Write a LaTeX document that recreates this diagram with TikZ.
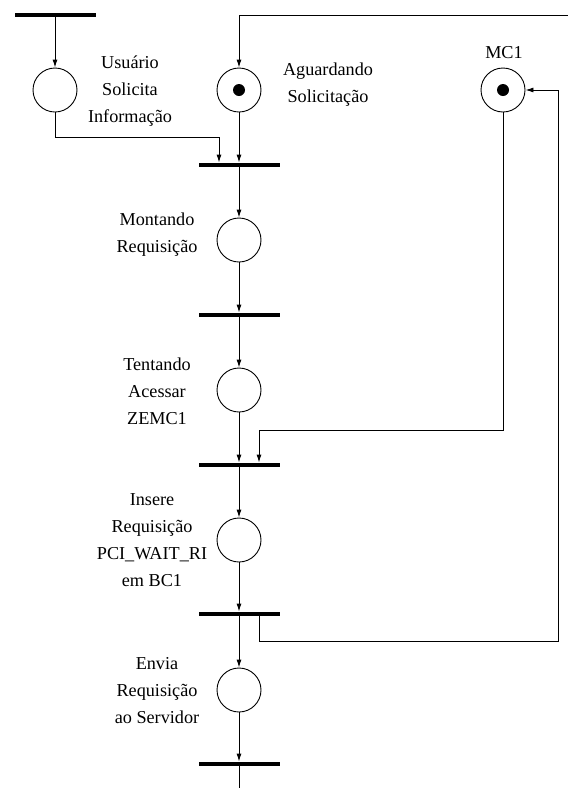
\documentclass[tikz,border=0pt]{standalone}
\usepackage{fontspec}
\setmainfont{Liberation Serif}
\usetikzlibrary{arrows.meta}

\begin{document}
\begin{tikzpicture}[
    x=1pt, y=-1pt,
    % Node styles
    place/.style={
        circle,
        draw=black,
        line width=0.9pt,
        minimum size=44pt,
        inner sep=0pt
    },
    marked/.style={
        place,
        path picture={\fill (path picture bounding box.center) circle (6pt);}
    },
    transbar/.style={
        rectangle,
        fill=black,
        minimum width=81pt,
        minimum height=4.5pt,
        inner sep=0pt
    },
    arc/.style={
        -{Latex[length=8pt,width=5pt]},
        line width=0.9pt
    },
    plain/.style={
        line width=0.9pt
    },
    label/.style={
        font=\fontsize{18.2}{27}\selectfont,
        align=center
    }
]
\useasboundingbox (0,0) rectangle (568,788);

% ===== Places =====

\node[place]  (usu)  at (55, 90)  {};
\node[marked] (agu)  at (239, 90) {};
\node[marked] (mc1)  at (503, 90) {};
\node[place]  (mont) at (239, 240) {};
\node[place]  (tent) at (239, 390) {};
\node[place]  (ins)  at (239, 540) {};
\node[place]  (env)  at (239, 690) {};

% ===== Transitions =====

\node[transbar] (t0) at (55, 15)   {};
\node[transbar] (t1) at (239, 165) {};
\node[transbar] (t2) at (239, 315) {};
\node[transbar] (t3) at (239, 465) {};
\node[transbar] (t4) at (239, 614) {};
\node[transbar] (t5) at (239, 764) {};

% ===== Labels =====

\node[label] (lusu)  at (130, 91)  {Usuário\\Solicita\\Informação};
\node[label] (lagu)  at (328, 85)  {Aguardando\\Solicitação};
\node[label] (lmc1)  at (504, 53)  {MC1};
\node[label] (lmont) at (157, 235) {Montando\\Requisição};
\node[label] (ltent) at (157, 391) {Tentando\\Acessar\\ZEMC1};
\node[label] (lins)  at (152, 540) {Insere\\Requisição\\PCI\_WAIT\_RI\\em BC1};
\node[label] (lenv)  at (157, 691) {Envia\\Requisição\\ao Servidor};

% ===== Free ends =====

\coordinate (topin)  at (568, 15);
\coordinate (botout) at (239, 788);
\coordinate (rcorner) at (558, 641);

% ===== Main column =====

\draw[arc] (t0) -- (usu);
\draw[arc] (agu) -- (t1.north);
\draw[arc] (t1) -- (mont);
\draw[arc] (mont) -- (t2.north);
\draw[arc] (t2) -- (tent);
\draw[arc] (tent) -- (t3.north);
\draw[arc] (t3) -- (ins);
\draw[arc] (ins) -- (t4.north);
\draw[arc] (t4) -- (env);
\draw[arc] (env) -- (t5.north);
\draw[plain] (t5) -- (botout);

% ===== Side connectors =====

\draw[arc] (usu.south) -- (usu.south |- 0,137) -| ([xshift=-20pt]t1.north);
\draw[arc] (topin) -| (agu.north);
\draw[arc] (mc1.south) -- (mc1.south |- 0,430) -| ([xshift=20pt]t3.north);
\draw[arc] ([xshift=20pt]t4.south) |- (rcorner) |- (mc1.east);

\end{tikzpicture}
\end{document}
